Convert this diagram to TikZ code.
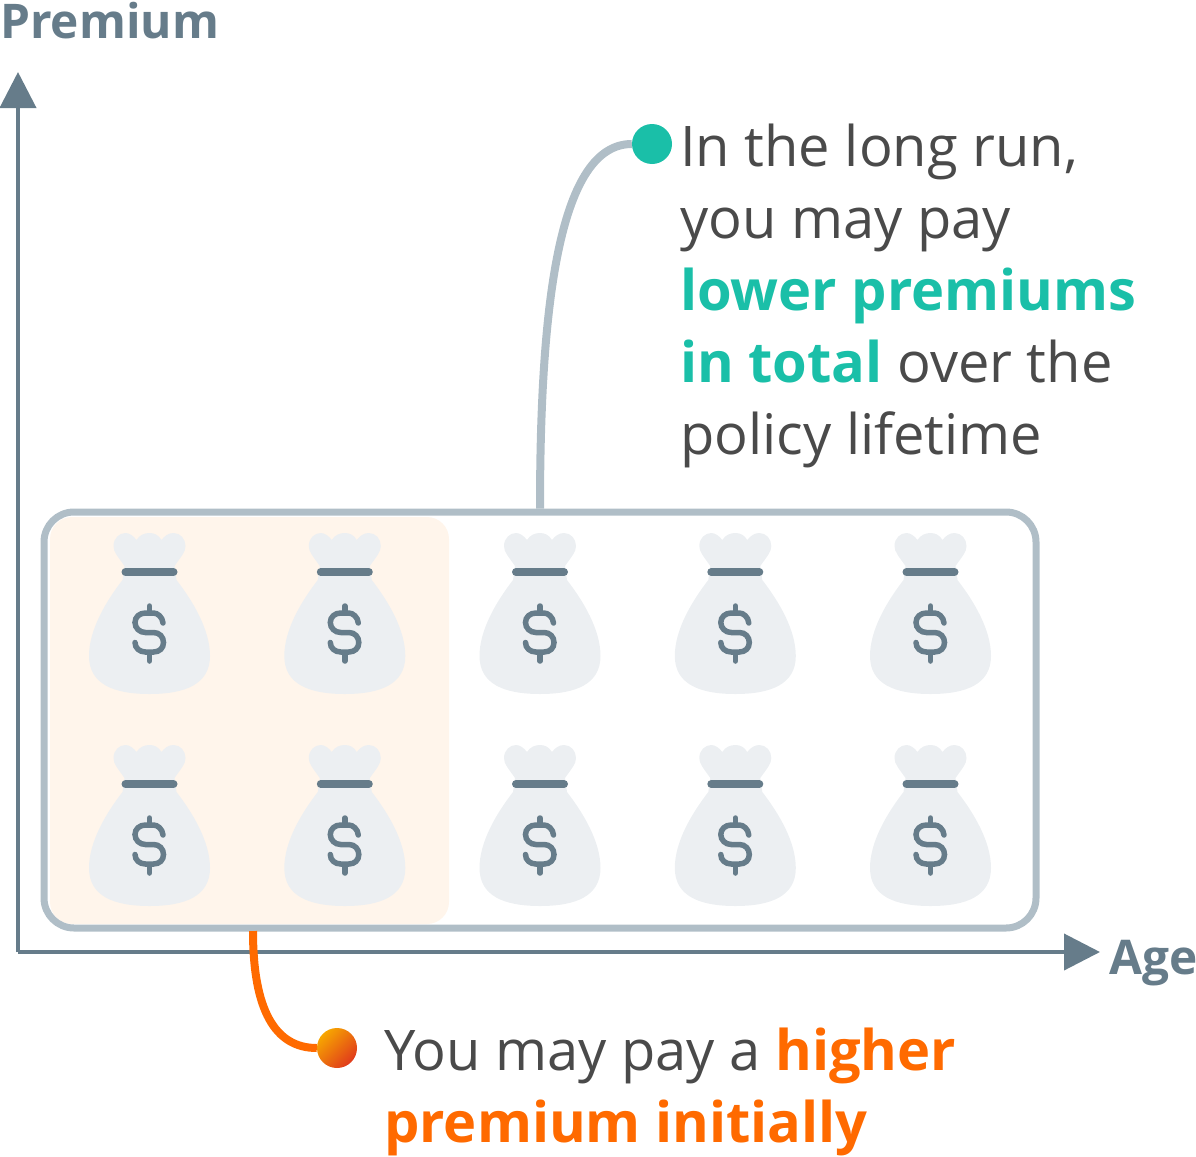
\documentclass[tikz,border=0pt]{standalone}
\usepackage{fontspec}
\setmainfont{Open Sans}
\usetikzlibrary{arrows.meta}
\definecolor{axisgray}{HTML}{667C8A}
\definecolor{framegray}{HTML}{B0BEC7}
\definecolor{baggray}{HTML}{ECEFF2}
\definecolor{peach}{HTML}{FFF5EB}
\definecolor{bodytext}{HTML}{4A4A4A}
\definecolor{teal}{HTML}{1ABFA8}
\definecolor{hotorange}{HTML}{FF6A00}
\definecolor{dotyellow}{HTML}{F7A600}
\definecolor{dotred}{HTML}{E03A1C}
\tikzset{
	axisline/.style={draw=axisgray, line width=4pt, -{Triangle[width=36pt,length=36pt]}},
	axislabel/.style={text=axisgray, inner sep=0pt, font=\fontsize{47.8}{48}\selectfont\bfseries},
	callout/.style={text=bodytext, inner sep=0pt, align=left, font=\fontsize{56}{72}\selectfont},
	enddot/.style={circle, inner sep=0pt, minimum size=40pt},
	moneybag/.pic={
		\fill[baggray] (-25,-6) .. controls (-32,-16) and (-36,-20) .. (-36,-26)
			.. controls (-36,-34) and (-30,-39) .. (-24,-39)
			.. controls (-20,-39) and (-16,-36) .. (-13,-32)
			.. controls (-10,-37) and (-5,-39) .. (0,-39)
			.. controls (5,-39) and (9,-37) .. (12,-32)
			.. controls (15,-36) and (19,-39) .. (24,-39)
			.. controls (31,-39) and (36,-33) .. (36,-26)
			.. controls (36,-20) and (32,-16) .. (25,-6)
			-- (27,8) .. controls (44,30) and (60.5,58) .. (60.5,84)
			.. controls (60.5,112) and (36,122) .. (0,122)
			.. controls (-36,122) and (-60.5,112) .. (-60.5,84)
			.. controls (-60.5,58) and (-44,30) .. (-27,8) -- cycle;
		\draw[axisgray, line width=8pt, line cap=round] (-24,0) -- (24,0);
		\draw[axisgray, line width=5.5pt, line cap=round] (0,34) -- (0,40) (0,82) -- (0,89);
		\draw[axisgray, line width=5.5pt, line cap=round] (13.5,51) .. controls (13,45) and (8,41) .. (4,41)
			-- (-4,41) .. controls (-10,41) and (-14.5,45) .. (-14.5,50.5)
			.. controls (-14.5,56) and (-10,60.5) .. (-4,60.5)
			-- (4,60.5) .. controls (10,60.5) and (14,65) .. (14,70.5)
			.. controls (14,76) and (10,80) .. (4,80)
			-- (-4,80) .. controls (-10,80) and (-14.5,76) .. (-14.5,70.5);
	}
}
\begin{document}
\begin{tikzpicture}[x=1pt,y=-1pt]
\useasboundingbox (0,0) rectangle (1196,1156);

% Younger years
\node [fill=peach,
	rounded corners=22pt,
	minimum width=399pt,
	minimum height=407pt] (early) at (249.5,720.5){};

% Bags
\foreach \bagx in {149.5,344.8,540,735.3,930.5}
	\foreach \bagy in {572,784}
		\pic at (\bagx,\bagy) {moneybag};

% Policy lifetime
\node [draw=framegray,
	line width=7pt,
	rounded corners=30pt,
	minimum width=992pt,
	minimum height=416pt] (frame) at (540,720){};

% Axes
\coordinate (origin) at (18,952);
\coordinate (premiumtip) at (18,72);
\coordinate (agetip) at (1100,952);
\draw [axisline] (origin) -- (premiumtip);
\draw [axisline] (origin) -- (agetip);
\node [axislabel, anchor=base west] (premium) at (0,38) {Premium};
\node [axislabel, anchor=base west] (age) at (1109,974) {Age};

% Callouts
\node [enddot, fill=teal] (longdot) at (652,144){};
\node [enddot, shade, left color=dotyellow, right color=dotred, shading angle=45] (startdot) at (337,1048){};
\coordinate (startfoot) at (253,931);
\draw [framegray, line width=8pt] (frame.north) .. controls (540,300) and (560,144) .. (longdot.west);
\draw [hotorange, line width=8pt] (startfoot) .. controls (253,1010) and (275,1048) .. (startdot.west);

\node [callout, anchor=north west] (longtext) at (680,124) {In the long run,\\you may pay\\\textcolor{teal}{\bfseries lower premiums}\\\textcolor{teal}{\bfseries in total} over the\\policy lifetime};
\node [callout, anchor=north west] (starttext) at (384,1028) {You may pay a \textcolor{hotorange}{\bfseries higher}\\\textcolor{hotorange}{\bfseries premium initially}};

\end{tikzpicture}
\end{document}
